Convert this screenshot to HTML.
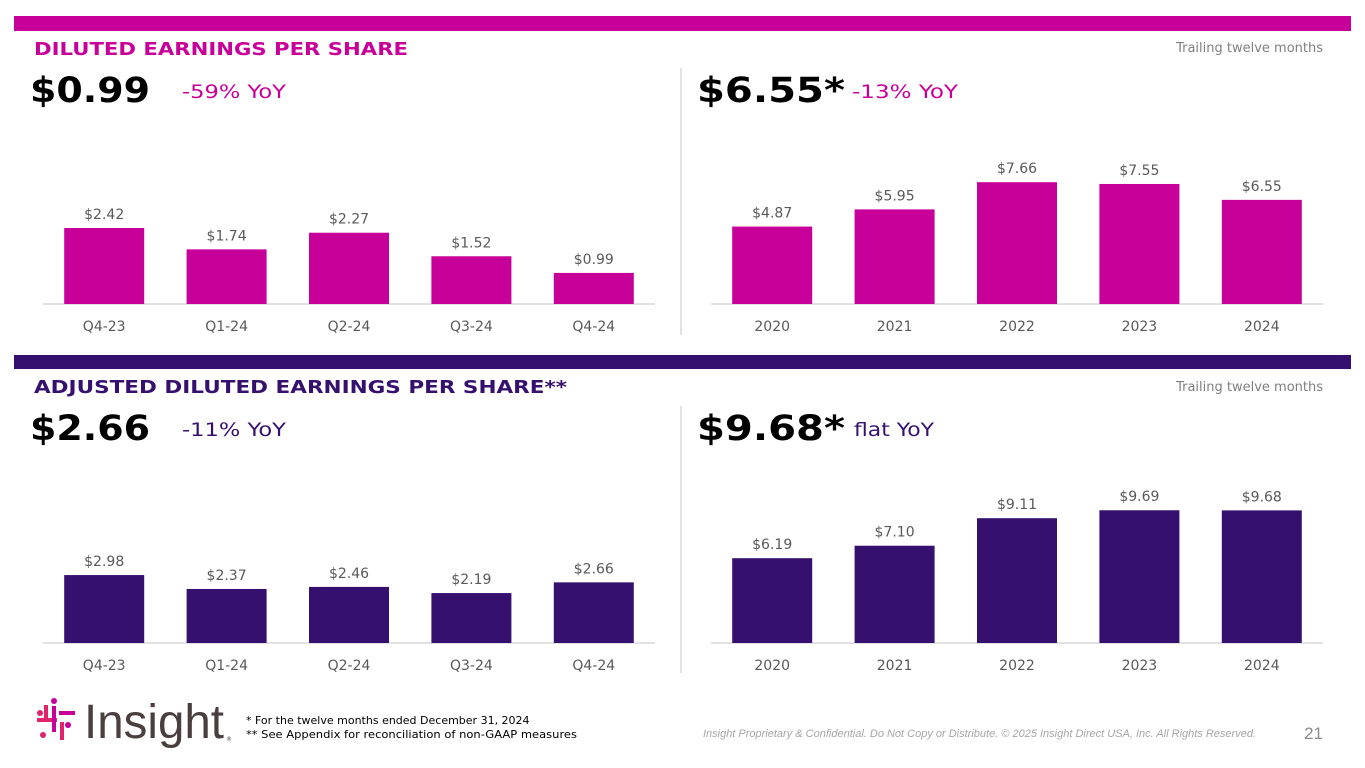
<!DOCTYPE html>
<html><head><meta charset="utf-8"><style>
html,body{margin:0;padding:0;background:#fff;}
svg{display:block;font-family:"DejaVu Sans","Liberation Sans",sans-serif;}
</style></head><body>
<svg id="s" width="1365" height="768" viewBox="0 0 1365 768" xmlns="http://www.w3.org/2000/svg">
<rect x="14" y="16" width="1337" height="15" fill="#c8009a"/>
<rect x="14" y="355" width="1337" height="14" fill="#35106e"/>
<text x="34" y="55" font-size="18" font-weight="bold" fill="#c8009a" textLength="374" lengthAdjust="spacingAndGlyphs">DILUTED EARNINGS PER SHARE</text>
<text x="34" y="393" font-size="18" font-weight="bold" fill="#35106e" textLength="533" lengthAdjust="spacingAndGlyphs">ADJUSTED DILUTED EARNINGS PER SHARE**</text>
<text x="1323" y="52" font-size="13" fill="#7f7f7f" text-anchor="end">Trailing twelve months</text>
<text x="1323" y="391" font-size="13" fill="#7f7f7f" text-anchor="end">Trailing twelve months</text>

<text x="30" y="102" font-size="35" font-weight="bold" fill="#000" textLength="120" lengthAdjust="spacingAndGlyphs">$0.99</text>
<text x="182" y="98" font-size="19" fill="#c8009a" textLength="104" lengthAdjust="spacingAndGlyphs">-59% YoY</text>
<text x="697" y="102" font-size="35" font-weight="bold" fill="#000" textLength="148" lengthAdjust="spacingAndGlyphs">$6.55*</text>
<text x="852" y="98" font-size="19" fill="#c8009a" textLength="106" lengthAdjust="spacingAndGlyphs">-13% YoY</text>
<text x="30" y="440" font-size="35" font-weight="bold" fill="#000" textLength="120" lengthAdjust="spacingAndGlyphs">$2.66</text>
<text x="182" y="436" font-size="19" fill="#35106e" textLength="104" lengthAdjust="spacingAndGlyphs">-11% YoY</text>
<text x="697" y="440" font-size="35" font-weight="bold" fill="#000" textLength="148" lengthAdjust="spacingAndGlyphs">$9.68*</text>
<text x="854" y="436" font-size="19" fill="#35106e" textLength="80" lengthAdjust="spacingAndGlyphs">flat YoY</text>

<line x1="681" y1="68" x2="681" y2="335" stroke="#d9d9d9" stroke-width="1.5"/>
<line x1="681" y1="406" x2="681" y2="673" stroke="#d9d9d9" stroke-width="1.5"/>

<g>
<circle cx="40" cy="713" r="3" fill="#e0236b"/><circle cx="54" cy="701" r="3" fill="#c8009a"/>
<rect x="37" y="718" width="20" height="4" fill="#e0236b"/><rect x="52" y="706" width="4" height="26" fill="#c8009a"/>
<rect x="44" y="705" width="4" height="15" fill="#e0236b"/><rect x="59" y="711" width="16" height="4" fill="#c8009a"/>
<circle cx="68" cy="725" r="3" fill="#c8009a"/><circle cx="43" cy="735" r="3" fill="#e0236b"/>
<rect x="60" y="722" width="4" height="18" fill="#e0236b"/>
<text x="84" y="738" font-family="Liberation Sans, sans-serif" font-size="48" fill="#4a3f3f" textLength="140" lengthAdjust="spacingAndGlyphs">Insight</text>
<text x="226" y="741" font-size="6" fill="#4a3f3f">®</text>
</g>
<text x="246" y="724" font-size="11" fill="#000">* For the twelve months ended December 31, 2024</text>
<text x="246" y="738" font-size="11" fill="#000" textLength="331" lengthAdjust="spacingAndGlyphs">** See Appendix for reconciliation of non-GAAP measures</text>
<text x="1256" y="737" font-family="Liberation Sans, sans-serif" font-size="11" font-style="italic" fill="#a6a6a6" text-anchor="end">Insight Proprietary &amp; Confidential. Do Not Copy or Distribute. © 2025 Insight Direct USA, Inc. All Rights Reserved.</text>
<text x="1323" y="739" font-family="Liberation Sans, sans-serif" font-size="17" fill="#8c8c8c" text-anchor="end">21</text>
<g id="charts"></g>
</svg>
<script>
const qCats = ["Q4-23","Q1-24","Q2-24","Q3-24","Q4-24"];
const yCats = ["2020","2021","2022","2023","2024"];
const qEps = [2.42,1.74,2.27,1.52,0.99];
const yEps = [4.87,5.95,7.66,7.55,6.55];
const qAdj = [2.98,2.37,2.46,2.19,2.66];
const yAdj = [6.19,7.10,9.11,9.69,9.68];

const NS="http://www.w3.org/2000/svg";
const root=document.getElementById('charts');
function mk(tag,attrs){const e=document.createElementNS(NS,tag);for(const k in attrs)e.setAttribute(k,attrs[k]);root.appendChild(e);return e;}
function chart(name,cats,vals,x0,x1,base,pxPerUnit,color){
  const band=(x1-x0)/cats.length;
  const xs=i=>x0+band*(i+0.5);
  const ys=v=>base-v*pxPerUnit;
  const ax=mk('line',{x1:x0,x2:x1,y1:base,y2:base,stroke:'#d9d9d9','stroke-width':1.5});
  
  
  vals.forEach((v,i)=>{
    const r=mk('rect',{x:xs(i)-40,y:ys(v),width:80,height:base-ys(v),fill:color});
    
    
    const t=mk('text',{x:xs(i),y:ys(v)-9,'font-size':14,fill:'#595959','text-anchor':'middle'});
    t.textContent='$'+v.toFixed(2);
    
    
    const c=mk('text',{x:xs(i),y:base+27,'font-size':14,fill:'#595959','text-anchor':'middle'});
    c.textContent=cats[i];
    
    
  });
}
chart('quarterly-eps',qCats,qEps,43,655,304,31.4,'#c8009a');
chart('annual-eps',yCats,yEps,711,1323,304,15.9,'#c8009a');
chart('quarterly-adj-eps',qCats,qAdj,43,655,643,22.8,'#35106e');
chart('annual-adj-eps',yCats,yAdj,711,1323,643,13.7,'#35106e');
</script>
</body></html>
